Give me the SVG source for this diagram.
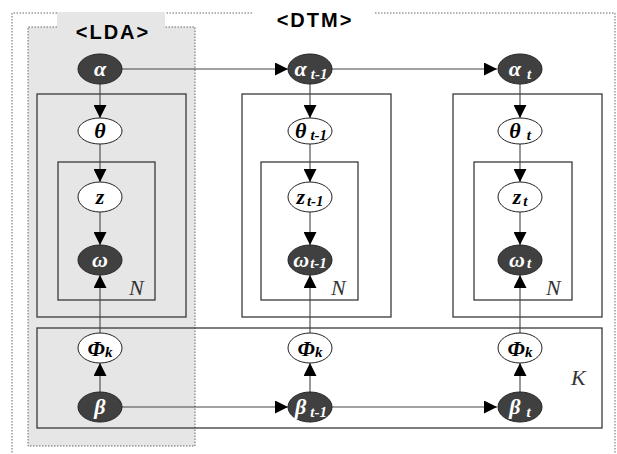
<svg xmlns="http://www.w3.org/2000/svg" width="617" height="454" viewBox="0 0 617 454">
<style>
.dot{fill:none;stroke:#666;stroke-width:1;stroke-dasharray:1.5 1.5}
.plate{fill:none;stroke:#3a3a3a;stroke-width:1.3}
.edge{fill:none;stroke:#444;stroke-width:1.1}
.dark{fill:#404040;stroke:#222;stroke-width:1}
.light{fill:#fff;stroke:#222;stroke-width:1}
.hdr{font-family:"Liberation Sans",Arial,sans-serif;font-weight:bold;font-size:20px;fill:#000;letter-spacing:2px}
.sym{font-family:"Liberation Serif","Times New Roman",serif;font-style:italic;font-weight:bold;font-size:22px}
.w{fill:#fff}
.b{fill:#000}
.sub{font-size:15px}
.lbl{font-family:"Liberation Serif","Times New Roman",serif;font-style:italic;font-size:22px;fill:#333}
</style>
<defs>
<marker id="ah" viewBox="0 0 10 10" refX="10" refY="5" markerWidth="13" markerHeight="13" markerUnits="userSpaceOnUse" orient="auto">
<path d="M0,0 L10,5 L0,10 Z" fill="#000"/>
</marker>
</defs>
<rect width="617" height="454" fill="#fff"/>
<g id="dtm-frame">
<path class="dot" d="M252,13 H12 V454 M375,13 H615 V454"/>
<text class="hdr" x="315" y="27" text-anchor="middle">&lt;DTM&gt;</text>
</g>
<g id="lda-frame">
<rect x="28" y="27" width="167" height="419" fill="#e6e6e6"/>
<rect x="57" y="12" width="108" height="16" fill="#e6e6e6"/>
<path class="dot" d="M57,27 H28 V446 H195 V27 H165"/>
<text class="hdr" x="113" y="39" text-anchor="middle">&lt;LDA&gt;</text>
</g>
<g id="plates">
<rect class="plate" x="37" y="94" width="149" height="223"/>
<rect class="plate" x="58" y="162" width="97" height="138"/>
<rect class="plate" x="242" y="94" width="149" height="223"/>
<rect class="plate" x="261" y="162" width="97" height="138"/>
<rect class="plate" x="453" y="94" width="149" height="223"/>
<rect class="plate" x="474" y="162" width="98" height="138"/>
<rect class="plate" x="37" y="328" width="565" height="100"/>
<text class="lbl" x="129" y="295">N</text>
<text class="lbl" x="331" y="295">N</text>
<text class="lbl" x="546" y="295">N</text>
<text class="lbl" x="571" y="385">K</text>
</g>
<g id="connectors">
<path class="edge" d="M122,69 H288" marker-end="url(#ah)"/>
<path class="edge" d="M332,69 H497" marker-end="url(#ah)"/>
<path class="edge" d="M122,407 H288" marker-end="url(#ah)"/>
<path class="edge" d="M332,407 H497" marker-end="url(#ah)"/>
<path class="edge" d="M100,84 V118" marker-end="url(#ah)"/>
<path class="edge" d="M100,144 V182" marker-end="url(#ah)"/>
<path class="edge" d="M100,212 V245" marker-end="url(#ah)"/>
<path class="edge" d="M100,333 V275" marker-end="url(#ah)"/>
<path class="edge" d="M100,392 V363" marker-end="url(#ah)"/>
<path class="edge" d="M310,84 V118" marker-end="url(#ah)"/>
<path class="edge" d="M310,144 V182" marker-end="url(#ah)"/>
<path class="edge" d="M310,212 V245" marker-end="url(#ah)"/>
<path class="edge" d="M310,333 V275" marker-end="url(#ah)"/>
<path class="edge" d="M310,392 V363" marker-end="url(#ah)"/>
<path class="edge" d="M520,84 V118" marker-end="url(#ah)"/>
<path class="edge" d="M520,144 V182" marker-end="url(#ah)"/>
<path class="edge" d="M520,212 V245" marker-end="url(#ah)"/>
<path class="edge" d="M520,333 V275" marker-end="url(#ah)"/>
<path class="edge" d="M520,392 V363" marker-end="url(#ah)"/>
</g>
<g id="alpha"><ellipse class="dark" cx="100" cy="69" rx="22" ry="15"/><text class="sym w" x="100" y="76" text-anchor="middle">α</text></g>
<g id="alpha_t1"><ellipse class="dark" cx="310" cy="69" rx="22" ry="15"/><text class="sym w" x="311" y="76" text-anchor="middle">α<tspan class="sub" dx="4" dy="3">t-1</tspan></text></g>
<g id="alpha_t"><ellipse class="dark" cx="520" cy="69" rx="22" ry="15"/><text class="sym w" x="520" y="76" text-anchor="middle">α<tspan class="sub" dx="6" dy="3">t</tspan></text></g>
<g id="theta"><ellipse class="light" cx="100" cy="131" rx="22" ry="13"/><text class="sym b" x="100" y="138" text-anchor="middle">θ</text></g>
<g id="theta_t1"><ellipse class="light" cx="310" cy="131" rx="22" ry="13"/><text class="sym b" x="311" y="138" text-anchor="middle">θ<tspan class="sub" dx="4" dy="2">t-1</tspan></text></g>
<g id="theta_t"><ellipse class="light" cx="520" cy="131" rx="22" ry="13"/><text class="sym b" x="520" y="138" text-anchor="middle">θ<tspan class="sub" dx="6" dy="2">t</tspan></text></g>
<g id="z"><ellipse class="light" cx="100" cy="197" rx="22" ry="15"/><text class="sym b" x="100" y="204" text-anchor="middle" font-size="26">z</text></g>
<g id="z_t1"><ellipse class="light" cx="310" cy="197" rx="22" ry="15"/><text class="sym b" x="310" y="204" text-anchor="middle" font-size="26">z<tspan class="sub" dx="2" dy="2">t-1</tspan></text></g>
<g id="z_t"><ellipse class="light" cx="520" cy="197" rx="22" ry="15"/><text class="sym b" x="520" y="204" text-anchor="middle" font-size="26">z<tspan class="sub" dx="2" dy="2">t</tspan></text></g>
<g id="omega"><ellipse class="dark" cx="100" cy="260" rx="22" ry="15"/><text class="sym w" x="100" y="267" text-anchor="middle">ω</text></g>
<g id="omega_t1"><ellipse class="dark" cx="310" cy="260" rx="22" ry="15"/><text class="sym w" x="310" y="267" text-anchor="middle">ω<tspan class="sub" dx="1" dy="1">t-1</tspan></text></g>
<g id="omega_t"><ellipse class="dark" cx="520" cy="260" rx="22" ry="15"/><text class="sym w" x="520" y="267" text-anchor="middle">ω<tspan class="sub" dx="2" dy="1">t</tspan></text></g>
<g id="phi"><ellipse class="light" cx="100" cy="348" rx="22" ry="15"/><text class="sym b" x="100" y="356" text-anchor="middle" font-size="20">Φ<tspan class="sub" dy="1">k</tspan></text></g>
<g id="phi_2"><ellipse class="light" cx="310" cy="348" rx="22" ry="15"/><text class="sym b" x="310" y="356" text-anchor="middle" font-size="20">Φ<tspan class="sub" dy="1">k</tspan></text></g>
<g id="phi_3"><ellipse class="light" cx="520" cy="348" rx="22" ry="15"/><text class="sym b" x="520" y="356" text-anchor="middle" font-size="20">Φ<tspan class="sub" dy="1">k</tspan></text></g>
<g id="beta"><ellipse class="dark" cx="100" cy="407" rx="22" ry="15"/><text class="sym w" x="100" y="414" text-anchor="middle">β</text></g>
<g id="beta_t1"><ellipse class="dark" cx="310" cy="407" rx="22" ry="15"/><text class="sym w" x="311" y="414" text-anchor="middle">β<tspan class="sub" dx="4" dy="3">t-1</tspan></text></g>
<g id="beta_t"><ellipse class="dark" cx="520" cy="407" rx="22" ry="15"/><text class="sym w" x="520" y="414" text-anchor="middle">β<tspan class="sub" dx="6" dy="3">t</tspan></text></g>
</svg>
